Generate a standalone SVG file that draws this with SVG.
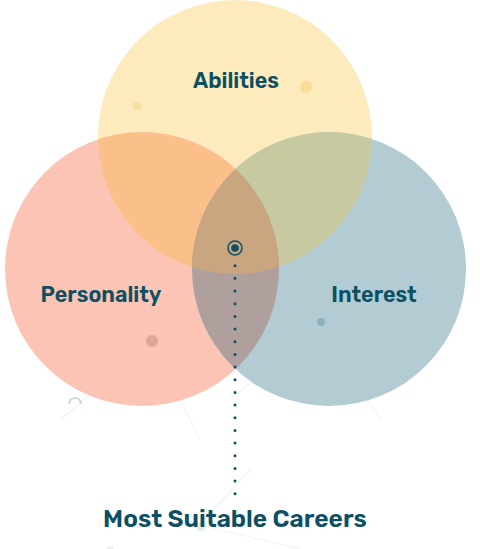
<svg xmlns="http://www.w3.org/2000/svg" width="480" height="549" viewBox="0 0 480 549">
<style>
.lbl{font-family:Rubik,Inter,"Noto Sans",sans-serif;font-weight:600;fill:#0d5064;text-anchor:middle}
.bg{stroke:#f2f2f2;stroke-width:1.2;fill:none}
</style>
<defs>
<clipPath id="cT"><circle cx="235" cy="137" r="137"/></clipPath>
<clipPath id="cL"><circle cx="142" cy="269" r="137"/></clipPath>
<clipPath id="cR"><circle cx="329" cy="269" r="137"/></clipPath>
</defs>
<rect width="480" height="549" fill="#ffffff"/>
<g id="background">
<path class="bg" d="M20 330 L152 341 L321 322 L440 360 M152 341 L60 420 M152 341 L200 440 M321 322 L380 420 M321 322 L230 400 M200 525 L250 470 M200 525 L300 549 M110 80 L306 87 M137 106 L306 87"/>
<path d="M69 404 A6 6 0 0 1 81 404" fill="none" stroke="#c9dadf" stroke-width="2"/>
<circle cx="201" cy="526" r="5" fill="#e3ebee"/>
<circle cx="110" cy="550" r="4" fill="#eeeeee"/>
</g>
<g id="node-abilities"><circle cx="235" cy="137" r="137" fill="#fdebbe"/></g>
<g id="node-personality"><circle cx="142" cy="269" r="137" fill="#fbc4b4"/></g>
<g id="node-interest"><circle cx="329" cy="269" r="137" fill="#b3cbd3"/></g>
<g id="overlaps">
<circle cx="142" cy="269" r="137" fill="#fbc08a" clip-path="url(#cT)"/>
<circle cx="329" cy="269" r="137" fill="#c7c9a1" clip-path="url(#cT)"/>
<circle cx="329" cy="269" r="137" fill="#b0a09d" clip-path="url(#cL)"/>
<g clip-path="url(#cT)"><circle cx="329" cy="269" r="137" fill="#c9a680" clip-path="url(#cL)"/></g>
</g>
<g id="deco-dots">
<circle cx="137" cy="106" r="4" fill="#f9dea0"/>
<circle cx="306" cy="87" r="6" fill="#f9dc98"/>
<circle cx="152" cy="341" r="6" fill="#dca89c"/>
<circle cx="321" cy="322" r="4" fill="#8fb1bc"/>
</g>
<g id="labels">
<text class="lbl" x="236" y="88" font-size="21.5">Abilities</text>
<text class="lbl" x="101" y="302" font-size="21.5">Personality</text>
<text class="lbl" x="374" y="302" font-size="21.5">Interest</text>
</g>
<g id="connectors">
<circle cx="235" cy="248" r="7" fill="none" stroke="#0d5064" stroke-width="1.5"/>
<circle cx="235" cy="248" r="3.8" fill="#0d5064"/>
<line x1="235" y1="265.7" x2="235" y2="495" stroke="#0d5064" stroke-width="3" stroke-linecap="round" stroke-dasharray="0 12.67"/>
</g>
<g id="node-careers">
<text class="lbl" x="235" y="527" font-size="24.5">Most Suitable Careers</text>
</g>
</svg>
